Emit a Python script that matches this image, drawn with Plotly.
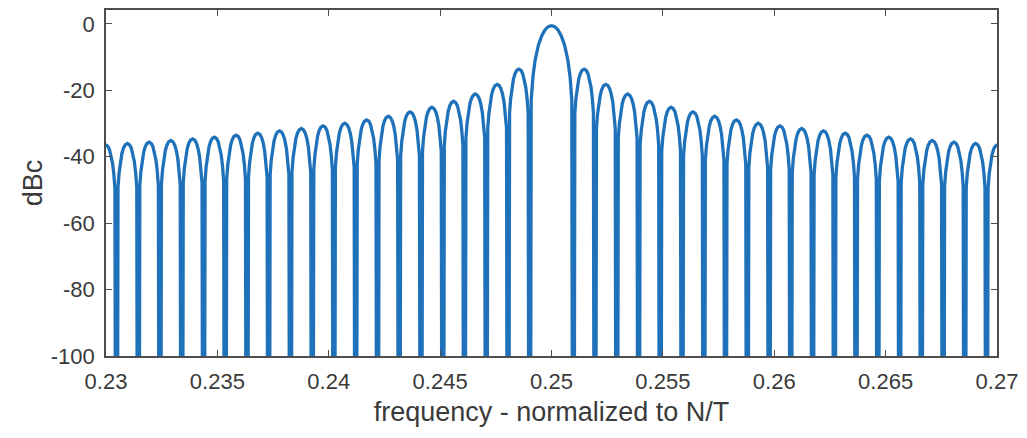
import plotly.graph_objects as go

# ---- data ----
# null frequencies to the left and right of the main lobe (spacing ~ 1/1024)
null_left = [0.22949, 0.23047, 0.23145, 0.23242, 0.23340, 0.23438, 0.23535,
             0.23633, 0.23730, 0.23828, 0.23926, 0.24023, 0.24121, 0.24219,
             0.24316, 0.24414, 0.24512, 0.24609, 0.24707, 0.24805, 0.24902]
null_right = [0.25098, 0.25195, 0.25293, 0.25391, 0.25488, 0.25586, 0.25684,
              0.25781, 0.25879, 0.25977, 0.26074, 0.26172, 0.26270, 0.26367,
              0.26465, 0.26563, 0.26660, 0.26758, 0.26855, 0.26953, 0.27051]
main_center = 0.25
main_peak_db = -0.5
# peak level of side lobe k = 1..20 (same on both sides)
sidelobe_peak_db = [-13.6, -18.2, -21.1, -23.3, -25.1, -26.5, -27.8, -28.9,
                    -29.9, -30.7, -31.5, -32.2, -32.9, -33.5, -34.1, -34.6,
                    -35.1, -35.6, -36.0, -36.4]
# side-lobe profile: fraction across the lobe and drop below its peak (dB)
lobe_t = [0.00, 0.07, 0.12, 0.18, 0.25, 0.32, 0.40, 0.50]
lobe_drop = [None, -13.2, -8.9, -5.5, -3.0, -1.4, -0.4, 0.0]
# main-lobe profile: offset from centre (in null spacings) and level (dB)
main_u = [0.0, 0.15, 0.30, 0.45, 0.60, 0.75, 0.85, 0.93]
main_db = [0.0, -0.3, -1.3, -3.1, -5.9, -10.4, -15.4, -22.5]
null_db = -300.0

x_ticks = [0.23, 0.235, 0.24, 0.245, 0.25, 0.255, 0.26, 0.265, 0.27]
x_tick_text = ["0.23", "0.235", "0.24", "0.245", "0.25", "0.255", "0.26", "0.265", "0.27"]
y_ticks = [-100, -80, -60, -40, -20, 0]
y_tick_text = ["-100", "-80", "-60", "-40", "-20", "0"]

# ---- build the curve ----
full_t = lobe_t + [1 - t for t in reversed(lobe_t[:-1])]
full_drop = lobe_drop + list(reversed(lobe_drop[:-1]))


def add_lobe(xs, ys, a, b, peak):
    for t, d in zip(full_t, full_drop):
        if d is None:
            continue
        xs.append(a + t * (b - a))
        ys.append(peak + d)


xs, ys = [], []
n = len(sidelobe_peak_db)
for i in range(len(null_left) - 1):
    xs.append(null_left[i]); ys.append(null_db)
    add_lobe(xs, ys, null_left[i], null_left[i + 1], sidelobe_peak_db[n - 1 - i])
xs.append(null_left[-1]); ys.append(null_db)
half = null_right[0] - main_center
mu = [-u for u in reversed(main_u[1:])] + main_u
md = list(reversed(main_db[1:])) + main_db
for u, d in zip(mu, md):
    xs.append(main_center + u * half)
    ys.append(main_peak_db + d)
for i in range(len(null_right) - 1):
    xs.append(null_right[i]); ys.append(null_db)
    add_lobe(xs, ys, null_right[i], null_right[i + 1], sidelobe_peak_db[i])
xs.append(null_right[-1]); ys.append(null_db)

fig = go.Figure()
fig.add_trace(go.Scatter(x=xs, y=ys, mode="lines",
                         line=dict(color="#1F72BA", width=3.3),
                         showlegend=False, hoverinfo="skip"))

txt = "#3a3a3a"
axis_common = dict(showgrid=False, zeroline=False, showline=True,
                   linecolor="#4d4d4d", linewidth=1.5, mirror="ticks",
                   ticks="inside", ticklen=6, tickcolor="#4d4d4d",
                   ticklabelstandoff=5,
                   tickfont=dict(family="Arial", size=22, color=txt))
fig.update_xaxes(range=[0.23, 0.27], tickvals=x_ticks, ticktext=x_tick_text,
                 title=dict(text="frequency - normalized to N/T", standoff=9,
                            font=dict(family="Arial", size=27, color=txt)),
                 **axis_common)
fig.update_yaxes(range=[-100, 4.2], tickvals=y_ticks, ticktext=y_tick_text,
                 title=dict(text="dBc", standoff=0,
                            font=dict(family="Arial", size=27, color=txt)),
                 **axis_common)
fig.update_layout(width=1027, height=438,
                  margin=dict(l=98, r=38, t=2, b=90, autoexpand=False),
                  plot_bgcolor="white", paper_bgcolor="white")
fig.write_html("out.html")
